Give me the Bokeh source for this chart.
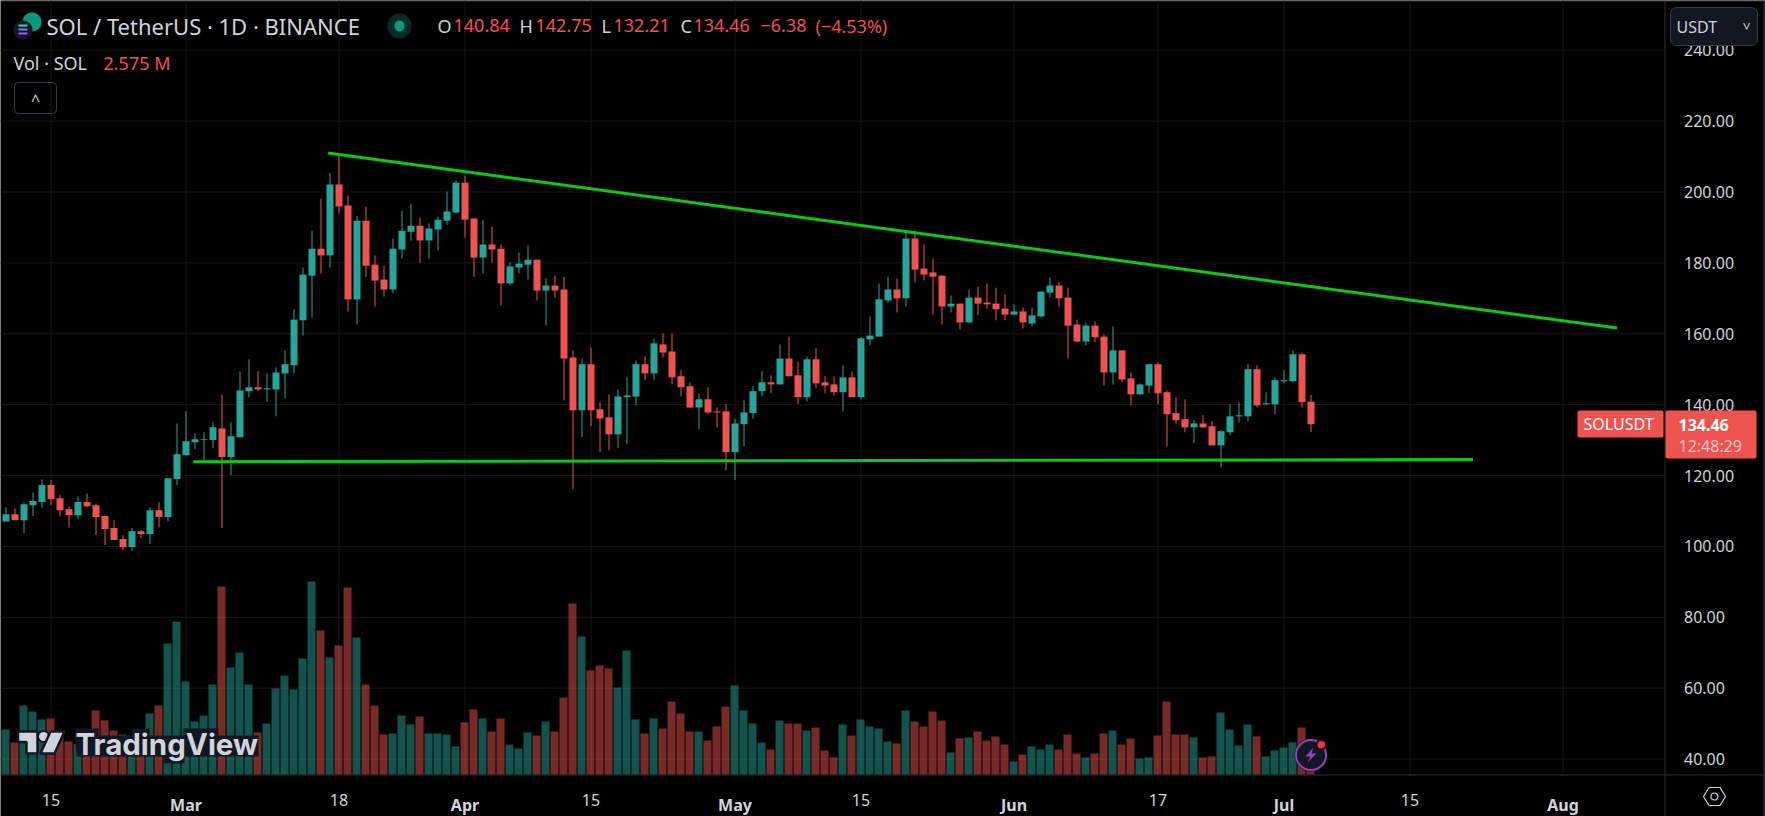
from bokeh.plotting import figure
from bokeh.models import (Range1d, FixedTicker, Label, BoxAnnotation, PolyAnnotation,
                          NumeralTickFormatter, LinearAxis)
from bokeh.embed import file_html
from bokeh.resources import INLINE

# ---------- data ----------
opens = [107.0,109.1,107.4,111.6,112.5,117.3,113.6,110.5,108.8,112.5,
         111.6,108.6,105.2,102.1,99.8,104.3,103.5,110.2,108.3,119.0,
         125.7,129.4,130.0,130.0,133.3,125.2,130.8,143.8,144.9,144.3,
         144.3,148.8,151.1,163.8,176.4,184.0,182.1,202.1,196.2,169.7,
         191.9,179.5,175.3,172.5,183.8,188.8,190.5,186.3,189.4,191.9,
         194.2,202.6,192.5,181.5,185.2,184.0,174.2,178.7,179.5,180.9,
         172.2,173.6,172.5,153.3,138.4,151.4,138.7,136.4,131.6,142.1,
         142.3,151.4,148.8,157.0,155.0,148.0,145.2,139.2,141.5,138.1,
         138.1,126.6,134.5,137.6,143.8,146.3,145.7,153.0,148.3,142.1,
         152.8,146.3,145.7,143.5,147.7,142.1,158.4,159.2,169.4,172.5,
         170.0,186.9,178.4,177.3,176.4,167.7,168.5,163.2,170.2,168.8,
         168.5,167.1,165.4,166.3,162.9,164.9,171.6,173.6,170.2,162.6,
         157.8,162.3,159.2,149.1,155.3,147.4,142.9,145.4,151.4,143.5,
         137.6,135.9,133.6,134.7,133.9,128.5,132.2,136.7,136.7,150.0,
         140.1,140.1,146.6,146.6,154.2,140.84]
highs = [111.0,110.7,112.4,115.2,118.9,118.7,114.5,111.3,114.1,114.9,
         112.1,108.6,107.4,103.2,105.2,104.6,111.1,112.5,119.2,134.7,
         138.1,131.9,132.2,135.0,142.9,135.0,149.4,152.8,149.4,148.8,
         150.5,155.3,166.9,178.7,189.1,198.1,205.4,210.2,199.0,193.3,
         195.9,182.1,179.2,186.9,194.7,196.7,192.8,191.1,193.1,200.1,
         203.2,204.6,192.5,192.2,190.2,185.2,180.1,182.9,184.9,180.9,
         175.6,176.4,176.1,155.3,153.0,156.1,140.7,142.9,144.3,147.7,
         152.5,153.6,158.7,160.1,160.1,149.7,146.3,143.2,144.9,139.2,
         140.1,136.1,141.2,145.2,149.4,148.3,157.0,159.2,152.2,153.6,
         155.9,148.0,148.0,151.1,149.4,159.0,164.9,174.2,176.1,175.6,
         188.5,189.1,185.2,181.2,176.4,170.8,168.5,172.5,173.3,174.2,
         173.0,171.1,168.3,167.4,167.4,171.9,175.9,174.5,173.0,164.0,
         163.2,163.5,159.8,162.1,155.3,149.1,146.0,151.6,151.9,144.0,
         142.1,141.5,135.6,137.0,135.3,132.8,140.1,140.7,151.4,151.1,
         143.5,147.7,149.7,155.3,154.7,142.75]
lows = [107.0,107.4,103.8,108.6,110.9,111.6,108.4,105.3,107.7,111.1,
        103.2,100.4,101.8,99.0,98.7,102.3,100.7,105.4,107.1,117.3,
        125.7,127.4,124.3,127.7,105.2,120.1,130.8,142.1,143.8,140.7,
        136.7,141.8,148.8,159.5,164.6,177.0,178.7,193.9,166.3,162.6,
        176.1,167.7,170.5,171.4,181.2,186.3,180.1,181.2,183.5,190.8,
        193.9,187.1,176.1,177.0,180.1,168.0,173.6,177.0,175.3,169.4,
        162.3,170.2,141.2,116.1,130.8,133.9,126.6,127.1,127.7,128.8,
        139.8,146.9,146.9,153.3,145.7,142.3,139.0,133.0,137.3,133.6,
        121.5,118.7,128.3,136.1,142.3,143.2,145.7,148.0,140.1,140.9,
        144.6,143.2,142.6,138.1,142.1,141.5,156.7,159.2,168.8,166.0,
        167.7,174.5,175.0,165.4,162.6,166.0,161.2,163.2,165.2,167.1,
        163.8,163.8,165.4,161.5,162.1,164.6,170.2,167.7,153.0,157.6,
        156.7,157.6,145.4,145.7,146.3,139.8,142.9,143.2,140.1,128.3,
        134.7,132.2,129.1,133.3,128.5,122.3,131.4,135.0,135.3,139.2,
        139.8,137.3,146.0,146.3,139.2,132.21]
closes = [109.1,107.4,111.9,112.8,117.3,113.3,110.2,108.8,112.5,111.3,
          108.3,104.9,101.8,99.8,104.3,103.5,110.2,108.3,119.2,126.0,
          129.7,130.2,130.2,133.6,125.2,131.1,144.0,144.9,144.3,144.6,
          149.1,151.4,164.0,176.7,184.0,182.1,202.1,195.9,169.7,191.9,
          179.2,175.0,172.5,184.0,189.1,190.5,186.3,189.7,192.2,194.5,
          202.6,192.2,181.5,185.2,183.8,174.2,179.0,179.8,180.9,172.2,
          173.6,172.2,153.0,138.4,151.4,138.4,136.1,131.6,142.3,142.6,
          151.4,148.8,157.3,154.7,147.7,144.9,139.2,141.5,137.8,137.8,
          126.6,134.7,137.8,143.8,146.3,145.7,153.0,148.0,142.1,152.8,
          146.0,145.4,143.5,147.7,142.1,158.7,159.5,169.7,172.5,170.0,
          186.9,178.1,176.7,176.1,167.7,168.5,163.2,170.2,168.5,168.3,
          166.9,165.4,166.3,163.2,165.2,171.9,173.6,170.0,162.3,157.8,
          162.3,159.0,149.1,155.3,147.1,142.9,145.7,151.4,143.2,137.3,
          135.6,133.6,134.7,133.6,128.5,132.5,136.7,137.0,150.0,139.8,
          140.4,146.9,146.9,154.2,140.7,134.46]
volumes = [4.14,2.95,6.35,5.80,5.07,5.16,3.75,3.04,2.82,3.44,
           5.89,4.97,4.05,3.68,3.13,3.13,5.62,6.35,12.07,14.09,
           8.57,4.88,5.43,8.29,17.31,9.85,11.24,8.29,3.87,4.70,
           7.92,9.12,7.83,10.68,17.78,13.26,10.78,11.88,17.22,12.62,
           8.29,6.35,3.68,3.78,5.43,4.61,5.34,3.78,3.78,3.68,
           2.58,4.79,5.99,5.16,3.96,5.16,2.76,2.39,3.87,3.59,
           4.88,3.96,7.09,15.75,12.71,9.58,10.04,9.76,8.01,11.42,
           5.07,3.78,5.16,4.24,6.72,5.62,3.96,3.96,3.13,4.42,
           6.26,8.20,5.89,4.70,2.95,2.30,4.97,4.70,4.70,4.05,
           4.33,2.21,1.57,4.61,3.59,5.07,4.42,4.24,3.04,2.86,
           5.89,4.88,4.42,5.80,4.97,2.03,3.32,3.41,3.96,3.13,
           3.50,2.76,1.20,1.84,2.58,2.30,2.76,2.30,3.68,1.93,
           1.57,1.93,3.78,4.05,2.76,3.32,1.47,1.57,3.59,6.72,
           3.68,3.68,3.41,1.57,1.66,5.71,4.14,2.67,4.61,3.50,
           1.66,2.21,2.49,2.95,4.33,2.575]
# day index of the tick labels (index 0 = 10 Feb)
day_ticks = [5, 37, 65, 95, 128, 156]
day_labels = ["15", "18", "15", "15", "17", "15"]
month_ticks = [20, 51, 81, 112, 142, 173]
month_labels = ["Mar", "Apr", "May", "Jun", "Jul", "Aug"]
price_ticks = [40, 60, 80, 100, 120, 140, 160, 180, 200, 220, 240]
# trend lines
upper_days = [35.8, 179.0]
upper_prices = [211.0, 161.6]
lower_days = [20.8, 163.0]
lower_prices = [123.9, 124.5]

# ---------- look ----------
W, H, PANE_W, PANE_H = 1765, 816, 1664, 774
UP, DOWN = "#26a69a", "#ef5350"
BG, GRID, EDGE, TXT = "#000000", "#171717", "#2a2e39", "#d1d4dc"
PANEL = "#131722"
FONT = "Noto Sans"
DAY_PX, FIRST_PX = 9.0, 5.5
PRICE_PX, REF_Y = 3.544, 191.5
VOL_PX = 10.857

# the plot frame fills the whole canvas; axes are placed at the pane edges
x_left = -FIRST_PX / DAY_PX
x_right = (W - FIRST_PX) / DAY_PX
x_pane = (PANE_W + 0.5 - FIRST_PX) / DAY_PX
y_top = 200 + REF_Y / PRICE_PX
y_bot = 200 - (H - REF_Y) / PRICE_PX
y_pane = 200 - (PANE_H + 0.5 - REF_Y) / PRICE_PX

p = figure(width=W, height=H, output_backend="svg", toolbar_location=None,
           x_range=Range1d(x_left, x_right), y_range=Range1d(y_bot, y_top),
           x_axis_type=None, y_axis_type=None,
           min_border_left=0, min_border_right=0, min_border_top=0, min_border_bottom=0,
           background_fill_color=BG, border_fill_color=BG, outline_line_color=None,
           styles={"position": "absolute", "left": "0px", "top": "0px"})
p.extra_y_ranges = {"vol": Range1d(-(H - PANE_H) / VOL_PX, PANE_H / VOL_PX)}

dax = LinearAxis(ticker=FixedTicker(ticks=day_ticks), fixed_location=y_pane,
                 major_label_overrides=dict(zip(day_ticks, day_labels)))
max_ = LinearAxis(ticker=FixedTicker(ticks=month_ticks), fixed_location=y_pane,
                  major_label_overrides=dict(zip(month_ticks, month_labels)),
                  major_label_text_font_style="bold")
yax = LinearAxis(ticker=FixedTicker(ticks=price_ticks), fixed_location=x_pane,
                 formatter=NumeralTickFormatter(format="0.00"))
for ax in (dax, max_, yax):
    ax.axis_line_color = None
    ax.major_tick_line_color = None
    ax.minor_tick_line_color = None
    ax.major_label_text_color = TXT
    ax.major_label_text_font = FONT
    ax.major_label_text_font_size = "16px"
    ax.major_label_standoff = 13
p.add_layout(dax, "below")
p.add_layout(max_, "below")
p.add_layout(yax, "right")

# grid lines, ending at the pane edges
date_ticks = day_ticks + month_ticks
p.segment(x0=date_ticks, x1=date_ticks, y0=[y_pane] * len(date_ticks), y1=[y_top] * len(date_ticks),
          line_color=GRID, line_width=1, level="underlay")
p.segment(x0=[x_left] * len(price_ticks), x1=[x_pane] * len(price_ticks), y0=price_ticks, y1=price_ticks,
          line_color=GRID, line_width=1, level="underlay")

# ---------- series ----------
n = len(opens)
days = list(range(n))
colors = [UP if c >= o else DOWN for o, c in zip(opens, closes)]
tops = [max(o, c) for o, c in zip(opens, closes)]
bots = [min(o, c) for o, c in zip(opens, closes)]

p.vbar(x=[d - 0.5 / DAY_PX for d in days], width=8 / DAY_PX, top=volumes, bottom=0,
       fill_color=colors, fill_alpha=0.5, line_color=None, y_range_name="vol")
p.segment(x0=days, x1=days, y0=lows, y1=highs, line_color=colors, line_width=1)
p.vbar(x=days, width=7 / DAY_PX, top=tops, bottom=bots, fill_color=colors, line_color=None)

GREEN = "#0cc816"
p.line(upper_days, upper_prices, line_color=GREEN, line_width=3)
p.line(lower_days, lower_prices, line_color=GREEN, line_width=3)

# ---------- screen furniture ----------
def txt(x, y, s, color=TXT, size=15, align="left", style="normal", angle=0, font=FONT):
    p.add_layout(Label(x=x, y=H - y, x_units="screen", y_units="screen", text=s,
                       text_color=color, text_font=font, text_font_size=f"{size}px",
                       text_align=align, text_baseline="middle", text_font_style=style,
                       angle=angle))

def box(x0_, y0_, x1_, y1_, fill=None, line=None, radius=0, lw=1):
    p.add_layout(BoxAnnotation(left=x0_, right=x1_, top=H - y0_, bottom=H - y1_,
                               left_units="screen", right_units="screen",
                               top_units="screen", bottom_units="screen",
                               fill_color=fill if fill else "#000000", fill_alpha=1 if fill else 0,
                               line_color=line if line else "#000000", line_alpha=1 if line else 0,
                               line_width=lw, border_radius=radius, level="annotation"))

def poly(pts, fill=None, line=None, lw=1):
    p.add_layout(PolyAnnotation(xs=[a for a, _ in pts], ys=[H - b for _, b in pts],
                                xs_units="screen", ys_units="screen",
                                fill_color=fill if fill else "#000000", fill_alpha=1 if fill else 0,
                                line_color=line if line else "#000000", line_alpha=1 if line else 0,
                                line_width=lw, level="annotation"))

# separators and outer edge
box(1664, 0, 1665, H, fill=EDGE)
box(0, 774, W, 775, fill=EDGE)
box(0, 0, W, 1, fill=EDGE)
box(1763, 0, W, H, fill=EDGE)

# legend row 1
box(22, 12, 41, 31, fill="#089981", radius=9)
box(13, 20, 32, 39, fill=PANEL, radius=9)
box(18, 24, 27, 26, fill="#2dd4bf")
box(18, 28, 27, 30, fill="#5b8def")
box(18, 32, 27, 34, fill="#a855f7")
txt(46, 25, "SOL / TetherUS · 1D · BINANCE", size=22)
box(387, 13, 411, 38, fill="#072b27", radius=12)
box(394, 20, 404, 31, fill="#089981", radius=5)
RED = "#f0524f"
for lx, l, vx, v in [(437, "O", 453, "140.84"), (519, "H", 535, "142.75"),
                     (601, "L", 613, "132.21"), (680, "C", 693, "134.46")]:
    txt(lx, 25, l, size=18)
    txt(vx, 25, v, color=RED, size=18)
txt(760, 25, "−6.38", color=RED, size=18)
txt(815, 25, "(−4.53%)", color=RED, size=18)

# legend row 2
txt(13, 62, "Vol · SOL", size=18)
txt(103, 62, "2.575 M", color=RED, size=18)

# collapse button
box(14, 82, 56, 113, line="#363a45", radius=4)
txt(35, 99, "^", size=16, align="center")

# USDT button
box(1670, 7, 1757, 45, fill=PANEL, line="#363a45", radius=6)
txt(1676, 26, "USDT", size=16)
txt(1746, 24, "^", size=14, align="center", angle=3.14159)

# price tag
box(1577, 410, 1663, 437, fill=DOWN, radius=2)
box(1665, 410, 1756, 458, fill=DOWN, radius=2)
txt(1583, 423.5, "SOLUSDT", color="#ffffff", size=16)
txt(1678, 424, "134.46", color="#ffffff", size=16, style="bold")
txt(1678, 445, "12:48:29", color="#fbc9c7", size=16)

# settings hexagon
poly([(1703, 796), (1708.5, 787), (1719.5, 787), (1725, 796), (1719.5, 805), (1708.5, 805)],
     line=TXT, lw=1.2)
box(1710.5, 792.5, 1717.5, 799.5, line=TXT, radius=4, lw=1.2)

# TradingView mark: dark halo behind the word, then the glyphs
poly([(74, 728), (98, 728), (98, 735), (131, 735), (131, 728), (149, 728), (149, 735),
      (183, 735), (183, 728), (218, 728), (218, 735), (258, 735), (258, 756), (184, 756),
      (184, 763), (163, 763), (163, 756), (76, 756)], fill=PANEL)
poly([(17.5, 731), (37, 731), (37, 753), (26, 753), (26, 741.5), (17.5, 741.5)], fill=TXT, line=PANEL, lw=2.5)
box(36.5, 729.5, 49.5, 742.5, fill=PANEL, radius=7)
box(38.5, 731.5, 47.5, 740.5, fill=TXT, radius=5)
poly([(50, 731), (64, 731), (54, 753), (40, 753)], fill=TXT, line=PANEL, lw=2.5)
txt(75, 743, "TradingView", size=29.5, style="bold", font="Inter")

# lightning badge
box(1294, 738, 1327, 771, fill=PANEL, radius=17)
box(1295.5, 739.5, 1325.5, 769.5, line="#9c3fc0", radius=15, lw=2)
poly([(1313, 747), (1305, 756), (1310, 756), (1307, 762), (1316, 753), (1311, 753)], fill="#9c3fc0")
box(1315, 739, 1326, 750, fill=PANEL, radius=6)
box(1317, 740.5, 1324.5, 748, fill="#f23645", radius=4)

open("out.html", "w").write(file_html(p, INLINE))
